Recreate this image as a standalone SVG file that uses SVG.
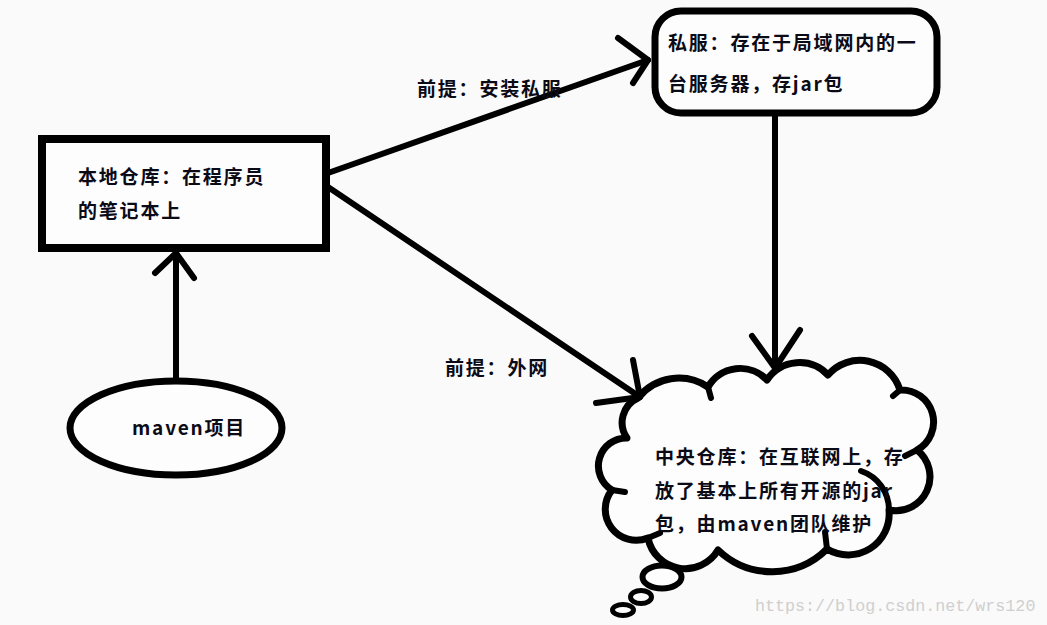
<svg xmlns="http://www.w3.org/2000/svg" width="1047" height="625" viewBox="0 0 1047 625">
<defs>
<style>
.ln{stroke:#000;stroke-width:6;fill:none;stroke-linecap:round;stroke-linejoin:round}
.nd{stroke:#000;stroke-width:7;fill:#fdfdfd}
.t{font-family:"Noto Sans CJK SC","Noto Sans",sans-serif;font-weight:bold;font-size:19px;letter-spacing:1.8px;fill:#0b0b18}
.wm{font-family:"Liberation Mono",monospace;font-size:16.7px;fill:#cfcfcf}
</style>
</defs>
<rect width="1047" height="625" fill="#fafafa"/>
<g id="local">
<rect class="nd" x="42" y="139" width="284" height="109" style="stroke-width:8"/>
<text class="t" x="78" y="184">本地仓库：在程序员</text>
<text class="t" x="78" y="218">的笔记本上</text>
</g>
<g id="private">
<rect class="nd" x="655" y="11" width="282" height="102" rx="26"/>
<text class="t" x="668" y="50">私服：存在于局域网内的一</text>
<text class="t" x="668" y="91">台服务器，存jar包</text>
</g>
<g id="project">
<ellipse class="nd" cx="176" cy="428" rx="106" ry="47"/>
<text class="t" x="132" y="435">maven项目</text>
</g>
<g id="central">
<path class="nd" stroke-linejoin="round" d="M638,398 A52,52 0 0 1 708,387 A37,37 0 0 1 767,380 A39,39 0 0 1 828,375 A42,42 0 0 1 900,390 A32,32 0 0 1 917,450 A34,34 0 0 1 889,510 A41,41 0 0 1 827,549 A78,78 0 0 1 718,550 A38,38 0 0 1 648,538 A31,31 0 0 1 612,490 A28,28 0 0 1 627,438 A27,27 0 0 1 638,398 Z"/>
<path class="ln" d="M861,471 A41,41 0 0 1 889,510"/>
<path class="ln" d="M612,490 L625,492 M648,538 L660,533 M827,549 L825,532 M917,450 L905,456 M708,387 L711,398 M900,390 L893,396"/>
<ellipse class="nd" cx="662" cy="577" rx="19.5" ry="11.5" style="stroke-width:6"/>
<ellipse class="nd" cx="641" cy="597" rx="10.5" ry="6.5" style="stroke-width:5"/>
<ellipse class="nd" cx="623" cy="610" rx="10.5" ry="5.5" style="stroke-width:5"/>
<text class="t" x="655" y="464">中央仓库：在互联网上，存</text>
<text class="t" x="655" y="498">放了基本上所有开源的jar</text>
<text class="t" x="655" y="531">包，由maven团队维护</text>
</g>
<g id="connectors">
<line class="ln" x1="176" y1="377" x2="176" y2="254"/>
<polyline class="ln" points="155,273 176,253 194,278"/>
<line class="ln" x1="328" y1="173" x2="648" y2="60"/>
<polyline class="ln" points="618,38 648,60 633,83"/>
<line class="ln" x1="328" y1="187" x2="640" y2="397"/>
<polyline class="ln" points="633,360 640,397 596,403"/>
<line class="ln" x1="775" y1="116" x2="775" y2="368"/>
<polyline class="ln" points="752,336 775,368 800,330"/>
<text class="t" x="417" y="96">前提：安装私服</text>
<text class="t" x="445" y="375">前提：外网</text>
</g>
<text class="wm" x="755" y="611">https://blog.csdn.net/wrs120</text>
</svg>
